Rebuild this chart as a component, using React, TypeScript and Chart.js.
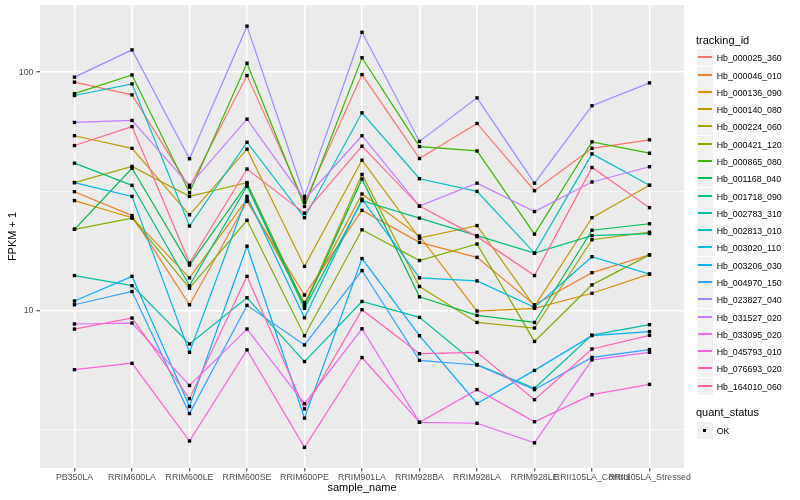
import React, { useEffect, useRef } from "react";
import { Chart, registerables } from "chart.js";

Chart.register(...registerables);

const sampleNames = [
  "PB350LA", "RRIM600LA", "RRIM600LE", "RRIM600SE", "RRIM600PE", "RRIM901LA",
  "RRIM928BA", "RRIM928LA", "RRIM928LE", "RRII105LA_Control", "RRII105LA_Stressed",
];

const trackingIds = [
  "Hb_000025_360", "Hb_000046_010", "Hb_000136_090", "Hb_000140_080", "Hb_000224_060",
  "Hb_000421_120", "Hb_000865_080", "Hb_001168_040", "Hb_001718_090", "Hb_002783_310",
  "Hb_002813_010", "Hb_003020_110", "Hb_003206_030", "Hb_004970_150", "Hb_023827_040",
  "Hb_031527_020", "Hb_033095_020", "Hb_045793_010", "Hb_076693_020", "Hb_164010_060",
];

const seriesColors = [
  "#F8766D", "#EA8331", "#D89000", "#C09B00", "#A3A500",
  "#7CAE00", "#39B600", "#00BB4E", "#00BF7D", "#00C1A3",
  "#00BFC4", "#00BAE0", "#00B0F6", "#35A2FF", "#9590FF",
  "#C77CFF", "#E76BF3", "#FA62DB", "#FF62BC", "#FF6C91",
];

const hb000025_360 = [90.8, 80.3, 32.9, 96.8, 28.4, 97.7, 43.4, 60.9, 31.8, 47.9, 52.0];
const hb000046_010 = [31.5, 25.0, 10.56, 28.7, 11.6, 26.3, 19.3, 16.7, 10.56, 14.4, 17.1];
const hb000136_090 = [28.9, 24.5, 13.7, 29.3, 10.8, 30.8, 20.5, 9.94, 10.2, 11.8, 14.2];
const hb000140_080 = [54.1, 47.9, 25.2, 47.5, 15.3, 42.7, 20.1, 22.7, 10.4, 24.5, 33.5];
const hb000224_060 = [34.4, 40.2, 30.1, 34.4, 10.5, 37.2, 12.6, 8.9, 8.43, 19.8, 21.3];
const hb000421_120 = [21.9, 24.4, 12.4, 23.9, 7.83, 21.8, 16.2, 19.0, 7.41, 12.8, 17.1];
const hb000865_080 = [81.3, 97.4, 31.2, 109, 27.3, 115, 48.7, 46.7, 20.9, 51.0, 45.7];
const hb001168_040 = [21.9, 39.5, 15.5, 33.9, 10.4, 35.6, 11.4, 9.53, 8.9, 21.7, 23.1];
const hb001718_090 = [41.5, 33.5, 12.7, 33.2, 10.2, 28.9, 24.4, 20.6, 17.4, 20.6, 21.0];
const hb002783_310 = [14.0, 12.7, 7.23, 11.3, 6.1, 10.9, 9.35, 5.92, 4.71, 7.88, 8.71];
const hb002813_010 = [79.8, 89.3, 22.6, 50.8, 24.5, 67.5, 35.7, 31.6, 17.4, 45.4, 33.5];
const hb003020_110 = [34.4, 30.1, 6.67, 30.1, 9.31, 29.3, 13.7, 13.3, 10.3, 16.8, 14.2];
const hb003206_030 = [10.95, 13.9, 3.95, 18.6, 3.53, 16.5, 7.83, 4.07, 5.6, 7.83, 8.15];
const hb004970_150 = [10.56, 12.0, 3.69, 10.5, 7.16, 14.7, 6.17, 5.9, 4.65, 6.35, 6.85];
const hb023827_040 = [95.3, 124, 43.3, 156, 30.1, 147, 51.2, 78.0, 34.2, 72.3, 90.2];
const hb031527_020 = [61.5, 62.7, 33.5, 63.5, 29.3, 54.1, 27.4, 34.2, 26.0, 34.6, 40.1];
const hb033095_020 = [8.77, 8.85, 4.84, 8.35, 4.06, 8.37, 3.39, 3.36, 2.78, 6.2, 6.67];
const hb045793_010 = [5.64, 6.0, 2.83, 6.83, 2.66, 6.34, 3.39, 4.65, 3.41, 4.43, 4.89];
const hb076693_020 = [8.35, 9.29, 4.26, 13.9, 3.86, 10.07, 6.58, 6.67, 4.22, 6.89, 7.85];
const hb164010_060 = [49.2, 59.1, 15.8, 39.2, 25.6, 48.9, 27.4, 20.4, 14.0, 39.8, 27.0];

const seriesValues = [
  hb000025_360, hb000046_010, hb000136_090, hb000140_080, hb000224_060,
  hb000421_120, hb000865_080, hb001168_040, hb001718_090, hb002783_310,
  hb002813_010, hb003020_110, hb003206_030, hb004970_150, hb023827_040,
  hb031527_020, hb033095_020, hb045793_010, hb076693_020, hb164010_060,
];

const yMajorTicks = [10, 100];
const yMinorTicks = [3.1623, 31.623];
const statusLabel = "OK";

const FONT = '"Liberation Sans", Arial, Helvetica, sans-serif';

export default function App() {
  const ref = useRef<HTMLCanvasElement>(null);

  useEffect(() => {
    document.body.style.margin = "0";
    const panelBg = {
      id: "panelBg",
      beforeDraw(chart: any) {
        const { ctx, chartArea: a } = chart;
        ctx.save();
        ctx.fillStyle = "#EBEBEB";
        ctx.fillRect(a.left, a.top, a.right - a.left, a.bottom - a.top);
        ctx.restore();
      },
    };
    const n = seriesValues.length;
    const lineSets: any[] = seriesValues.map((vals, i) => ({
      type: "line",
      label: trackingIds[i],
      data: vals.map((v, j) => ({ x: j, y: v })),
      borderColor: seriesColors[i],
      backgroundColor: seriesColors[i],
      borderWidth: 1.2,
      pointRadius: 0,
      fill: false,
      tension: 0,
      order: n - i,
    }));
    const pointSet: any = {
      type: "scatter",
      label: statusLabel,
      data: seriesValues.flatMap((vals) => vals.map((v, j) => ({ x: j, y: v }))),
      pointStyle: "rect",
      pointRadius: 2.4,
      pointBackgroundColor: "#000000",
      pointBorderWidth: 0,
      borderColor: "#000000",
      showLine: false,
      order: 0,
    };
    const isMajor = (c: any) => c.tick && yMajorTicks.includes(c.tick.value);
    const chart = new Chart(ref.current as HTMLCanvasElement, {
      type: "line",
      data: { datasets: [...lineSets, pointSet] },
      options: {
        animation: false,
        responsive: false,
        layout: { padding: { top: 5, right: 116, bottom: 0, left: 0 } },
        plugins: { legend: { display: false }, tooltip: { enabled: false } },
        scales: {
          x: {
            type: "linear",
            min: -0.6,
            max: 10.6,
            afterBuildTicks: (s: any) => {
              s.ticks = sampleNames.map((_, i) => ({ value: i }));
            },
            afterFit: (s: any) => {
              s.height = 32;
              s.paddingLeft = 0;
              s.paddingRight = 0;
            },
            ticks: {
              autoSkip: false,
              maxRotation: 0,
              minRotation: 0,
              padding: 1,
              color: "#4D4D4D",
              font: { family: FONT, size: 8.8 },
              callback: (v: any) => sampleNames[v] ?? "",
            },
            grid: { color: "#FFFFFF", lineWidth: 1.5, tickColor: "#333333", tickLength: 3.5, tickWidth: 1 },
            border: { display: false },
            title: {
              display: true,
              text: "sample_name",
              color: "#000000",
              font: { family: FONT, size: 11 },
              padding: { top: 0, bottom: 5 },
            },
          },
          y: {
            type: "logarithmic",
            min: 2.18,
            max: 191.4,
            afterBuildTicks: (s: any) => {
              s.ticks = [...yMinorTicks, ...yMajorTicks].sort((a, b) => a - b).map((v) => ({ value: v }));
            },
            afterFit: (s: any) => {
              s.width = 40;
              s.paddingTop = 0;
              s.paddingBottom = 0;
            },
            ticks: {
              autoSkip: false,
              padding: 3,
              color: "#4D4D4D",
              font: { family: FONT, size: 8.8 },
              callback: (v: any) => (yMajorTicks.includes(v) ? String(v) : ""),
            },
            grid: {
              color: "#FFFFFF",
              lineWidth: (c: any) => (isMajor(c) ? 1.5 : 0.7),
              tickColor: (c: any) => (isMajor(c) ? "#333333" : "rgba(0,0,0,0)"),
              tickLength: 3.5,
              tickWidth: 1,
            },
            border: { display: false },
            title: {
              display: true,
              text: "FPKM + 1",
              color: "#000000",
              font: { family: FONT, size: 11 },
              padding: { top: 6, bottom: 0 },
            },
          },
        },
      } as any,
      plugins: [panelBg],
    } as any);
    return () => chart.destroy();
  }, []);

  const keyTop0 = 49.3;
  const keyStep = 17.28;

  return (
    <div style={{ position: "fixed", left: 0, top: 0, width: 800, height: 500, background: "#FFFFFF", fontFamily: FONT }}>
      <canvas ref={ref} width={800} height={500} style={{ display: "block", width: 800, height: 500 }} />
      <div style={{ position: "absolute", left: 696, top: 34, fontSize: 11, lineHeight: "13px", color: "#000" }}>tracking_id</div>
      {trackingIds.map((id, i) => (
        <div key={id} style={{ position: "absolute", left: 697, top: Math.round(keyTop0 + keyStep * i), height: 17, display: "flex", alignItems: "center", whiteSpace: "nowrap" }}>
          <div style={{ position: "relative", width: 16, height: 17, background: "#F2F2F2" }}>
            <div style={{ position: "absolute", left: 1, width: 14, top: 7, height: 2, background: seriesColors[i] }} />
          </div>
          <span style={{ marginLeft: 3.7, fontSize: 8.8, color: "#000" }}>{id}</span>
        </div>
      ))}
      <div style={{ position: "absolute", left: 696, top: 405.8, fontSize: 11, lineHeight: "13px", color: "#000" }}>quant_status</div>
      <div style={{ position: "absolute", left: 697, top: 422, height: 17, display: "flex", alignItems: "center", whiteSpace: "nowrap" }}>
        <div style={{ position: "relative", width: 16, height: 17, background: "#F2F2F2" }}>
          <div style={{ position: "absolute", left: 6, top: 7, width: 3, height: 3, background: "#000" }} />
        </div>
        <span style={{ marginLeft: 3.7, fontSize: 8.8, color: "#000" }}>{statusLabel}</span>
      </div>
    </div>
  );
}
